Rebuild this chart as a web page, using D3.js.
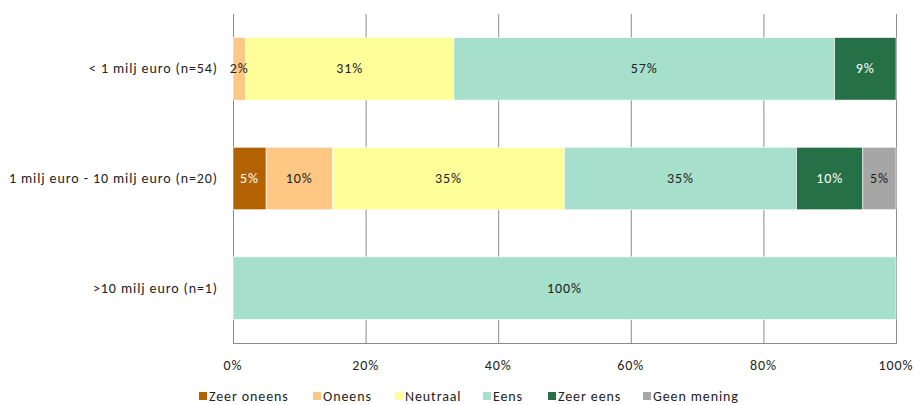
<!DOCTYPE html>
<html><head><meta charset="utf-8">
<script src="https://cdn.jsdelivr.net/npm/d3@7"></script>
<style>body{margin:0;background:#fff;} text{font-family:Carlito,"Liberation Sans","Open Sans",sans-serif;letter-spacing:0.9px;}</style>
</head><body><svg id="c" width="915" height="405"></svg>
<script>
const categories = ["< 1 milj euro (n=54)", "1 milj euro - 10 milj euro (n=20)", ">10 milj euro (n=1)"];
const seriesNames = ["Zeer oneens", "Oneens", "Neutraal", "Eens", "Zeer eens", "Geen mening"];
const seriesColors = ["#B36200", "#FFC784", "#FFFF99", "#A6E0CC", "#267047", "#A6A6A6"];
const labelColors = ["#fff", "#222", "#222", "#222", "#fff", "#222"];
// percentages per category, in series order
const zeerOneens = [0, 5, 0];
const oneens = [1.85, 10, 0];
const neutraal = [31.48, 35, 0];
const eens = [57.41, 35, 100];
const zeerEens = [9.26, 10, 0];
const geenMening = [0, 5, 0];
const tickValues = [0, 20, 40, 60, 80, 100];

const seriesValues = [zeerOneens, oneens, neutraal, eens, zeerEens, geenMening];
const svg = d3.select("#c");
const x = d3.scaleLinear().domain([0, 100]).range([233, 896]);
const y = d3.scaleBand().domain(categories).range([14, 343]).paddingInner(0.43).paddingOuter(0.215);

// gridlines
svg.append("g").selectAll("line").data(tickValues).join("line")
  .attr("x1", d => x(d) + 0.5).attr("x2", d => x(d) + 0.5)
  .attr("y1", 14).attr("y2", 343).attr("stroke", "#8c8c8c").attr("stroke-width", 1);
svg.append("line").attr("x1", x(0)).attr("x2", x(100) + 1).attr("y1", 343.5).attr("y2", 343.5)
  .attr("stroke", "#8c8c8c");

// stacked data
const rows = categories.map((c, i) => {
  let acc = 0;
  return seriesValues.map((s, j) => { const v = s[i]; const o = {cat: c, j, v, x0: acc, x1: acc + v}; acc += v; return o; });
});
const segs = rows.flat().filter(d => d.v > 0);
svg.append("g").selectAll("rect").data(segs).join("rect")
  .attr("x", d => x(d.x0)).attr("width", d => x(d.x1) - x(d.x0))
  .attr("y", d => y(d.cat)).attr("height", y.bandwidth())
  .attr("fill", d => seriesColors[d.j]).attr("stroke", "#fff").attr("stroke-width", 0.6);
svg.append("g").selectAll("text").data(segs).join("text")
  .attr("x", d => (x(d.x0) + x(d.x1)) / 2).attr("y", d => y(d.cat) + y.bandwidth() / 2)
  .attr("text-anchor", "middle").attr("dominant-baseline", "central")
  .attr("font-size", 14).attr("fill", d => labelColors[d.j])
  .text(d => Math.round(d.v) + "%");

// category labels
svg.append("g").selectAll("text").data(categories).join("text")
  .attr("x", 218).attr("y", d => y(d) + y.bandwidth() / 2)
  .attr("text-anchor", "end").attr("dominant-baseline", "central")
  .attr("font-size", 14).attr("fill", "#222").text(d => d);

// x tick labels
svg.append("g").selectAll("text").data(tickValues).join("text")
  .attr("x", d => x(d)).attr("y", 365).attr("text-anchor", "middle").attr("dominant-baseline", "central")
  .attr("font-size", 14).attr("fill", "#222").text(d => d + "%");

// legend
const legX = [199, 313, 395, 483, 548, 643];
const leg = svg.append("g").selectAll("g").data(seriesNames).join("g")
  .attr("transform", (d, i) => `translate(${legX[i]},396)`);
leg.append("rect").attr("x", 0).attr("y", -4).attr("width", 8).attr("height", 8)
  .attr("fill", (d, i) => seriesColors[i]);
leg.append("text").attr("x", 10).attr("y", 0).attr("dominant-baseline", "central")
  .attr("font-size", 14).attr("fill", "#222").text(d => d);
</script></body></html>
